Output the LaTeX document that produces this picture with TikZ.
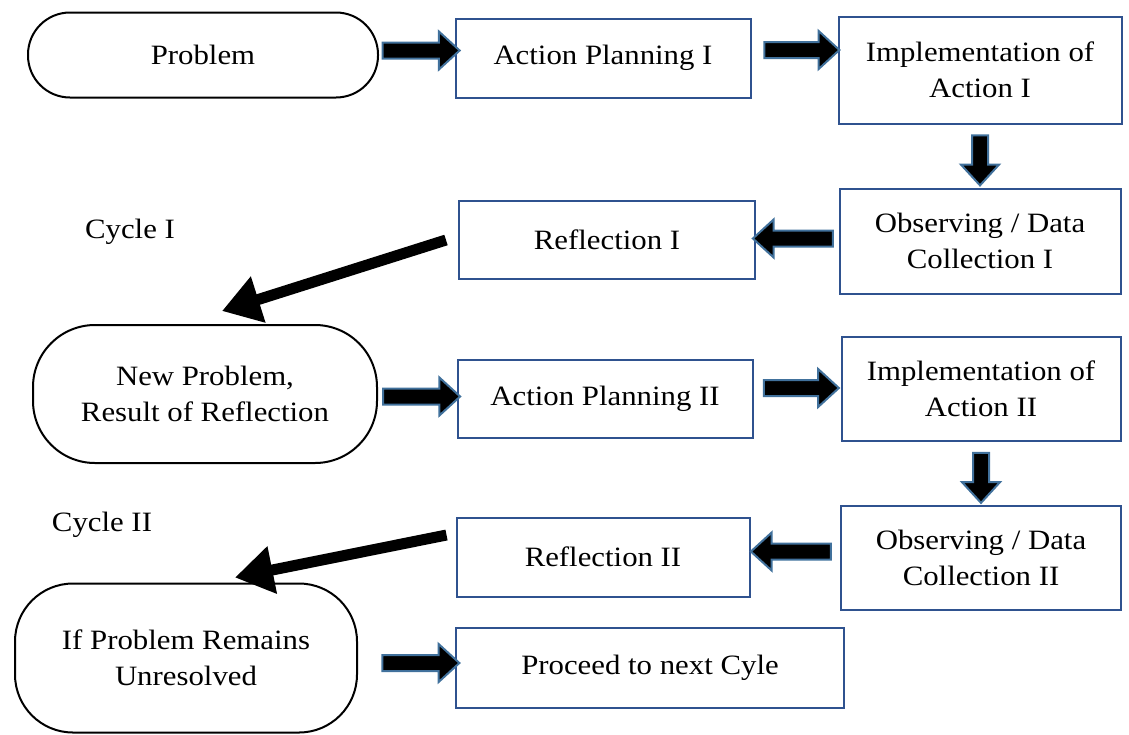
\documentclass[tikz,border=0pt]{standalone}
\usepackage{fontspec}
\setmainfont{Liberation Serif}[FakeStretch=1.1]
\usetikzlibrary{shapes.arrows,arrows.meta,calc}
\definecolor{boxblue}{RGB}{47,82,143}
\definecolor{arrowblue}{RGB}{65,113,156}

\tikzset{
  stepbox/.style={draw=boxblue,line width=2pt,align=center,inner sep=0pt},
  termbox/.style={draw=black,line width=2pt,align=center,inner sep=0pt},
  blockarrow/.style={single arrow,draw=arrowblue,fill=black,line width=2pt,
    inner xsep=0pt,inner ysep=7pt,single arrow head extend=11pt,single arrow tip angle=85},
  slantarrow/.style={line width=11pt,-{Triangle[length=38pt,width=46pt]}}
}

\begin{document}
\begin{tikzpicture}[x=1pt,y=-1pt,font=\fontsize{28}{36}\selectfont]
\useasboundingbox (0,0) rectangle (1129,734);

% cycle one
\node[termbox,rounded corners=42pt,minimum width=350pt,minimum height=85pt] (prob) at (203,55) {Problem};
\node[stepbox,minimum width=295pt,minimum height=79pt] (ap1) at (603,58) {Action Planning I};
\node[stepbox,minimum width=283pt,minimum height=107pt] (imp1) at (980,70) {Implementation of\\Action I};
\node[stepbox,minimum width=281pt,minimum height=105pt] (obs1) at (980,241) {Observing / Data\\Collection I};
\node[stepbox,minimum width=296pt,minimum height=78pt] (ref1) at (607,240) {Reflection I};
\node (cyc1) at (130,232) {Cycle I};

% cycle two
\node[termbox,rounded corners=62pt,minimum width=344pt,minimum height=138pt] (newprob) at (205,394) {New Problem,\\Result of Reflection};
\node[stepbox,minimum width=295pt,minimum height=78pt] (ap2) at (605,399) {Action Planning II};
\node[stepbox,minimum width=279pt,minimum height=104pt] (imp2) at (981,389) {Implementation of\\Action II};
\node[stepbox,minimum width=280pt,minimum height=104pt] (obs2) at (981,558) {Observing / Data\\Collection II};
\node[stepbox,minimum width=293pt,minimum height=79pt] (ref2) at (603,557) {Reflection II};
\node (cyc2) at (102,525) {Cycle II};

% end
\node[termbox,rounded corners=58pt,minimum width=342pt,minimum height=149pt] (ifprob) at (186,658) {If Problem Remains\\Unresolved};
\node[stepbox,minimum width=388pt,minimum height=80pt] (next) at (650,668) {Proceed to next Cyle};

% block arrows
\node[blockarrow,minimum height=77pt,yshift=6pt] (a1) at ($(prob.east)!0.5!(ap1.west)$) {};
\node[blockarrow,minimum height=75pt,yshift=14pt,xshift=3pt] (a2) at ($(ap1.east)!0.5!(imp1.west)$) {};
\node[blockarrow,minimum height=50pt,rotate=-90] (d1) at ($(imp1.south)!0.5!(obs1.north)$) {};
\node[blockarrow,minimum height=80pt,rotate=180,yshift=-2pt] (l1) at ($(obs1.west)!0.5!(ref1.east)$) {};
\node[blockarrow,minimum height=77pt] (a3) at ($(newprob.east)!0.5!(ap2.west)$) {};
\node[blockarrow,minimum height=75pt,yshift=6pt] (a4) at ($(ap2.east)!0.5!(imp2.west)$) {};
\node[blockarrow,minimum height=50pt,rotate=-90] (d2) at ($(imp2.south)!0.5!(obs2.north)$) {};
\node[blockarrow,minimum height=80pt,rotate=180,yshift=-6pt] (l2) at ($(obs2.west)!0.5!(ref2.east)$) {};
\node[blockarrow,minimum height=77pt,xshift=10pt] (a5) at ($(ifprob.east)!0.5!(next.west)$) {};

% back to the left
\draw[slantarrow] ([xshift=-12pt]ref1.west) -- ([xshift=17pt,yshift=13pt]newprob.north);
\draw[slantarrow] ([xshift=-9pt,yshift=22pt]ref2.west) -- ([xshift=49pt,yshift=5pt]ifprob.north);
\end{tikzpicture}
\end{document}
